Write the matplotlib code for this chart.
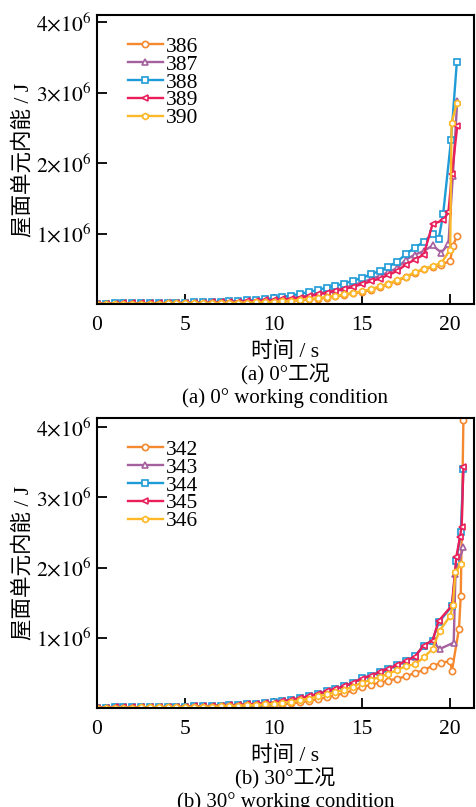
import matplotlib
matplotlib.use("Agg")
import matplotlib.pyplot as plt
from matplotlib.ticker import FixedLocator, FuncFormatter

plt.rcParams['font.family'] = ['Liberation Serif', 'Noto Sans CJK SC']
plt.rcParams['mathtext.fontset'] = 'stix'

# ---------------- data (values in 1e6 J) ----------------
t_main = [0, 0.5, 1, 1.5, 2, 2.5, 3, 3.5, 4, 4.5, 5, 5.5, 6, 6.5, 7, 7.5, 8, 8.5, 9, 9.5,
          10, 10.5, 11, 11.5, 12, 12.5, 13, 13.5, 14, 14.5, 15, 15.5, 16, 16.5, 17, 17.5,
          18, 18.5, 19, 19.5, 20]

# panel (a) 0 deg
a_labels = ['386', '387', '388', '389', '390']
a386_t = t_main + [20.15, 20.38]
a386_v = [0.003, 0.003, 0.004, 0.004, 0.005, 0.005, 0.006, 0.006, 0.007, 0.008, 0.009, 0.010, 0.011, 0.012, 0.013, 0.015, 0.017, 0.019, 0.021, 0.023,
          0.026, 0.034, 0.044, 0.054, 0.064, 0.076, 0.090, 0.108, 0.128, 0.150, 0.170, 0.200, 0.240, 0.280, 0.330, 0.380,
          0.440, 0.490, 0.530, 0.560, 0.610, 0.820, 0.960]
a387_t = t_main[:38] + [19.0, 19.5, 19.9, 20.15, 20.4]
a387_v = [0.005, 0.006, 0.007, 0.008, 0.009, 0.010, 0.011, 0.012, 0.013, 0.015, 0.017, 0.019, 0.022, 0.025, 0.029, 0.033, 0.038, 0.043, 0.049, 0.055,
          0.062, 0.072, 0.085, 0.100, 0.120, 0.150, 0.175, 0.200, 0.230, 0.265, 0.310, 0.350, 0.400, 0.450, 0.510, 0.630,
          0.700, 0.750, 0.830, 0.730, 0.850, 1.810, 2.880]
a388_t = t_main[:39] + [19.35, 19.6, 20.05, 20.38]
a388_v = [0.006, 0.007, 0.008, 0.009, 0.010, 0.011, 0.012, 0.013, 0.015, 0.017, 0.019, 0.022, 0.025, 0.029, 0.034, 0.039, 0.045, 0.052, 0.060, 0.070,
          0.082, 0.100, 0.120, 0.145, 0.170, 0.200, 0.230, 0.260, 0.290, 0.330, 0.370, 0.420, 0.470, 0.530, 0.600, 0.710,
          0.800, 0.880, 1.000, 0.920, 1.270, 2.330, 3.440]
a389_t = t_main[:38] + [19.0, 19.6, 19.9, 20.1, 20.4]
a389_v = [0.005, 0.006, 0.007, 0.008, 0.009, 0.010, 0.011, 0.012, 0.013, 0.014, 0.016, 0.018, 0.020, 0.023, 0.026, 0.030, 0.034, 0.039, 0.044, 0.050,
          0.056, 0.065, 0.077, 0.092, 0.110, 0.135, 0.160, 0.185, 0.210, 0.245, 0.280, 0.320, 0.360, 0.410, 0.470, 0.560,
          0.630, 0.700, 1.130, 1.190, 1.300, 1.850, 2.520]
a390_t = t_main[:40] + [20.0, 20.08, 20.38]
a390_v = [0.004, 0.004, 0.005, 0.005, 0.006, 0.006, 0.007, 0.007, 0.008, 0.009, 0.010, 0.011, 0.012, 0.014, 0.015, 0.017, 0.019, 0.021, 0.023, 0.026,
          0.030, 0.038, 0.048, 0.058, 0.070, 0.082, 0.098, 0.116, 0.136, 0.158, 0.180, 0.210, 0.250, 0.290, 0.340, 0.390,
          0.450, 0.500, 0.540, 0.580, 0.770, 2.570, 2.850]

# panel (b) 30 deg
b_labels = ['342', '343', '344', '345', '346']
b342_t = t_main + [20.1, 20.5, 20.6, 20.75]
b342_v = [0.004, 0.004, 0.005, 0.005, 0.006, 0.006, 0.007, 0.008, 0.009, 0.010, 0.011, 0.012, 0.014, 0.016, 0.018, 0.020, 0.023, 0.026, 0.030, 0.034,
          0.040, 0.050, 0.065, 0.080, 0.100, 0.125, 0.150, 0.180, 0.210, 0.250, 0.300, 0.330, 0.360, 0.390, 0.420, 0.450,
          0.500, 0.540, 0.600, 0.640, 0.670, 0.530, 1.130, 1.600, 4.100]
b343_t = t_main[:39] + [19.4, 20.2, 20.3, 20.5, 20.75]
b343_v = [0.006, 0.007, 0.008, 0.009, 0.010, 0.011, 0.012, 0.013, 0.015, 0.017, 0.019, 0.022, 0.025, 0.029, 0.034, 0.039, 0.045, 0.052, 0.060, 0.068,
          0.078, 0.095, 0.115, 0.140, 0.165, 0.200, 0.235, 0.270, 0.310, 0.360, 0.420, 0.460, 0.510, 0.560, 0.610, 0.670,
          0.730, 0.890, 0.960, 0.840, 0.930, 1.910, 2.100, 2.290]
b344_t = t_main[:39] + [19.35, 20.1, 20.35, 20.6, 20.75]
b344_v = [0.006, 0.007, 0.008, 0.009, 0.010, 0.011, 0.012, 0.013, 0.015, 0.017, 0.019, 0.022, 0.025, 0.029, 0.034, 0.039, 0.045, 0.052, 0.060, 0.069,
          0.080, 0.097, 0.117, 0.142, 0.168, 0.202, 0.237, 0.272, 0.312, 0.362, 0.422, 0.462, 0.512, 0.562, 0.612, 0.672,
          0.735, 0.890, 0.960, 1.220, 1.450, 2.100, 2.500, 3.400]
b345_t = t_main[:39] + [19.35, 20.1, 20.35, 20.55, 20.65, 20.75]
b345_v = [0.006, 0.007, 0.008, 0.009, 0.010, 0.011, 0.012, 0.013, 0.015, 0.017, 0.019, 0.022, 0.025, 0.029, 0.034, 0.039, 0.045, 0.052, 0.060, 0.068,
          0.078, 0.095, 0.115, 0.140, 0.165, 0.200, 0.235, 0.270, 0.310, 0.360, 0.420, 0.460, 0.510, 0.560, 0.610, 0.670,
          0.730, 0.890, 0.960, 1.240, 1.460, 2.150, 2.430, 2.580, 3.430]
b346_t = t_main[:39] + [19.4, 20.0, 20.15, 20.3, 20.6]
b346_v = [0.005, 0.005, 0.006, 0.006, 0.007, 0.008, 0.009, 0.010, 0.011, 0.012, 0.014, 0.016, 0.018, 0.021, 0.024, 0.028, 0.032, 0.037, 0.043, 0.050,
          0.058, 0.072, 0.090, 0.110, 0.135, 0.165, 0.195, 0.225, 0.260, 0.305, 0.360, 0.400, 0.440, 0.490, 0.540, 0.600,
          0.620, 0.720, 0.840, 1.100, 1.310, 1.460, 1.930, 2.050]

colors = ['#F5892F', '#A5619F', '#1F9BD7', '#E91E5A', '#FDB827']
markers = ['o', '^', 's', '<', 'h']

y_ticks = [1e6, 2e6, 3e6, 4e6]
x_ticks = [0, 5, 10, 15, 20]

fig = plt.figure(figsize=(4.77, 8.07), dpi=100)
W, H = 477, 807
ax1 = fig.add_axes([97 / W, 1 - 304 / H, 377 / W, 289 / H])
ax2 = fig.add_axes([97 / W, 1 - 708 / H, 377 / W, 290 / H])

panels = [
    (ax1, a_labels, [(a386_t, a386_v), (a387_t, a387_v), (a388_t, a388_v), (a389_t, a389_v), (a390_t, a390_v)],
     4.1e6, '(a) 0°工况', '(a) 0° working condition'),
    (ax2, b_labels, [(b342_t, b342_v), (b343_t, b343_v), (b344_t, b344_v), (b345_t, b345_v), (b346_t, b346_v)],
     4.13e6, '(b) 30°工况', '(b) 30° working condition'),
]

def yfmt(v, pos):
    return r'$%d{\times}10^{6}$' % round(v / 1e6)

for ax, labels, series, ytop, cap_cn, cap_en in panels:
    for (tt, vv), lab, c, m in zip(series, labels, colors, markers):
        ax.plot(tt, [v * 1e6 for v in vv], color=c, marker=m, markersize=4.5,
                markerfacecolor='white', markeredgecolor=c, markeredgewidth=1.2,
                linewidth=1.7, label=lab, clip_on=True)
    ax.set_xlim(0, 21.35)
    ax.set_ylim(0, ytop)
    ax.xaxis.set_major_locator(FixedLocator(x_ticks))
    ax.yaxis.set_major_locator(FixedLocator(y_ticks))
    ax.yaxis.set_major_formatter(FuncFormatter(yfmt))
    ax.tick_params(direction='in', length=7, width=1.3, labelsize=15.5, colors='black')
    ax.tick_params(axis='x', pad=9)
    ax.tick_params(axis='y', pad=4)
    for s in ax.spines.values():
        s.set_linewidth(1.5)
    ax.set_ylabel('屋面单元内能 / J', fontsize=15.5, labelpad=2)
    ax.set_xlabel('时间 / s', fontsize=15.5, labelpad=5)
    leg = ax.legend(loc='upper left', bbox_to_anchor=(0.06, 0.955), frameon=False,
                    fontsize=15.5, handlelength=1.6, handletextpad=0.15, labelspacing=-0.1,
                    borderaxespad=0)
    ax.text(0.5, -0.245, cap_cn, transform=ax.transAxes, ha='center', va='center', fontsize=15)
    ax.text(0.5, -0.325, cap_en, transform=ax.transAxes, ha='center', va='center', fontsize=15)

fig.savefig('out.png', dpi=100)
